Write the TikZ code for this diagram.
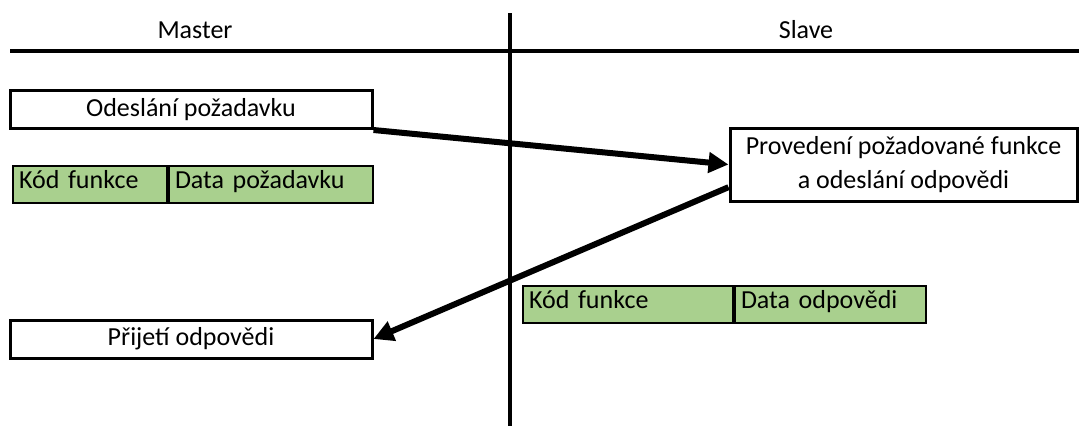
\documentclass[tikz,border=0pt]{standalone}
\usepackage{fontspec}
\setmainfont{Carlito}
\usetikzlibrary{arrows.meta, positioning}
\definecolor{tablegreen}{RGB}{169,208,142}
\tikzset{
    stepbox/.style={draw, line width=2.25pt, minimum height=28.5pt, align=center},
    cell/.style={draw, fill=tablegreen, line width=1.5pt, minimum height=27.75pt, inner xsep=4.5pt, inner ysep=0pt,
        text height=1.5ex, text depth=.3ex, align=left, anchor=west},
    msg/.style={line width=4.5pt, -{Triangle[length=15pt, width=15pt]}},
    lane/.style={line width=3pt}
}

\begin{document}
\begin{tikzpicture}[x=0.75pt, y=-0.75pt, font=\fontsize{19.5pt}{26pt}\selectfont]
    \useasboundingbox (0,0) rectangle (1079,426);
    % swimlanes
    \draw[lane] (10,51) -- (1079,51);
    \draw[lane] (510,13) -- (510,426);
    \node (master) at (195,30) {Master};
    \node (slave) at (806,30) {Slave};

    \node[stepbox, minimum width=271.5pt] (send) at (191,109.5) {Odeslání požadavku};
    \node[stepbox, minimum width=260.25pt, minimum height=54.75pt] (exec) at (903.5,164.5) {Provedení požadované funkce\\a odeslání odpovědi};
    \node[stepbox, minimum width=271.5pt] (recv) at (191,339) {Přijetí odpovědi};

    \node[cell, text width=106.5pt] (reqcode) at (12,184.5) {Kód funkce};
    \node[cell, text width=144pt] (reqdata) at (reqcode.east) {Data požadavku};
    \node[cell, text width=148.5pt] (respcode) at (522,304.5) {Kód funkce};
    \node[cell, text width=134pt] (respdata) at (respcode.east) {Data odpovědi};

    \draw[msg] (send.south east) -- (exec.west);
    \draw[msg] ([yshift=-17pt]exec.west) -- (recv.east);
\end{tikzpicture}
\end{document}
